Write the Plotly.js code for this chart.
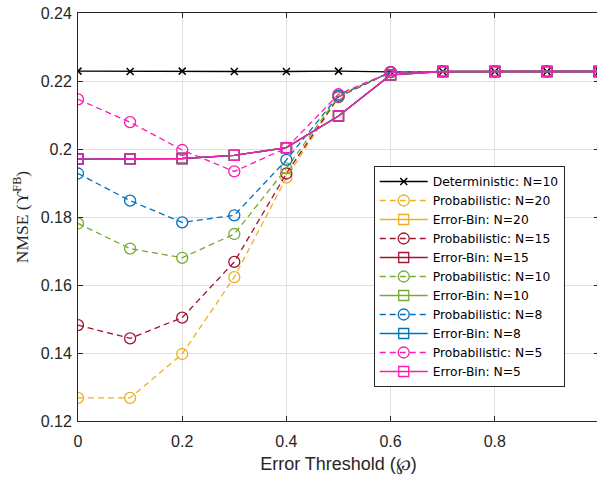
<!DOCTYPE html>
<html>
<head>
<meta charset="utf-8">
<script src="https://cdn.plot.ly/plotly-3.0.1.min.js"></script>
<style>
html, body { margin:0; padding:0; overflow:hidden; background:#fff; }
#chart { width:602px; height:478px; }
</style>
</head>
<body>
<div id="chart"></div>
<script>
// ---- data ----
const thresholds = [0, 0.1, 0.2, 0.3, 0.4, 0.5, 0.6, 0.7, 0.8, 0.9, 1.0];

const deterministicN10 = [0.2229, 0.2228, 0.2229, 0.2228, 0.2228, 0.2229, 0.2227, 0.2228, 0.2228, 0.2228, 0.2228];

const probN20 = [0.1268, 0.1268, 0.1397, 0.1623, 0.1916, 0.2153, 0.2226, 0.2228, 0.2228, 0.2228, 0.2228];
const probN15 = [0.1482, 0.1443, 0.1504, 0.1668, 0.1928, 0.2153, 0.2226, 0.2228, 0.2228, 0.2228, 0.2228];
const probN10 = [0.1781, 0.1707, 0.1680, 0.1750, 0.1943, 0.2155, 0.2226, 0.2228, 0.2228, 0.2228, 0.2228];
const probN8  = [0.1928, 0.1848, 0.1784, 0.1805, 0.1968, 0.2157, 0.2226, 0.2228, 0.2228, 0.2228, 0.2228];
const probN5  = [0.2146, 0.2079, 0.1997, 0.1934, 0.2003, 0.2161, 0.2226, 0.2228, 0.2228, 0.2228, 0.2228];

const binN20 = [0.1970, 0.1971, 0.1972, 0.1981, 0.2004, 0.2097, 0.2218, 0.2228, 0.2228, 0.2228, 0.2228];
const binN15 = [0.1970, 0.1971, 0.1972, 0.1981, 0.2004, 0.2097, 0.2218, 0.2228, 0.2228, 0.2228, 0.2228];
const binN10 = [0.1970, 0.1971, 0.1972, 0.1981, 0.2004, 0.2097, 0.2218, 0.2228, 0.2228, 0.2228, 0.2228];
const binN8  = [0.1970, 0.1971, 0.1972, 0.1981, 0.2004, 0.2097, 0.2218, 0.2228, 0.2228, 0.2228, 0.2228];
const binN5  = [0.1970, 0.1971, 0.1972, 0.1981, 0.2004, 0.2097, 0.2218, 0.2228, 0.2228, 0.2228, 0.2228];

const xTickVals = [0, 0.2, 0.4, 0.6, 0.8, 1];
const xTickText = ['0', '0.2', '0.4', '0.6', '0.8', '1'];
const yTickVals = [0.12, 0.14, 0.16, 0.18, 0.2, 0.22, 0.24];
const yTickText = ['0.12', '0.14', '0.16', '0.18', '0.2', '0.22', '0.24'];

// ---- styles ----
const colYellow = '#EDB120', colRed = '#A2142F', colGreen = '#77AC30', colBlue = '#0072BD', colPink = '#FF1AB0';
const DASH = '6px,4px';
const LW = 1.3;
const SANS = 'Liberation Sans, Arial, Helvetica, sans-serif';

function prob(name, y, c) {
  return { x: thresholds, y: y, name: name, type: 'scatter', mode: 'lines+markers',
    line: { color: c, width: LW, dash: DASH },
    marker: { symbol: 'circle-open', size: 11, color: c, line: { width: 1.3, color: c } } };
}
function bin(name, y, c) {
  return { x: thresholds, y: y, name: name, type: 'scatter', mode: 'lines+markers',
    line: { color: c, width: LW },
    marker: { symbol: 'square-open', size: 10, color: c, line: { width: 1.3, color: c } } };
}

const traces = [
  { x: thresholds, y: deterministicN10, name: 'Deterministic: N=10', type: 'scatter', mode: 'lines+markers',
    line: { color: '#000000', width: LW },
    marker: { symbol: 'x-thin-open', size: 7, color: '#000', line: { width: 1.5, color: '#000' } } },
  prob('Probabilistic: N=20', probN20, colYellow),
  bin('Error-Bin: N=20', binN20, colYellow),
  prob('Probabilistic: N=15', probN15, colRed),
  bin('Error-Bin: N=15', binN15, colRed),
  prob('Probabilistic: N=10', probN10, colGreen),
  bin('Error-Bin: N=10', binN10, colGreen),
  prob('Probabilistic: N=8', probN8, colBlue),
  bin('Error-Bin: N=8', binN8, colBlue),
  prob('Probabilistic: N=5', probN5, colPink),
  bin('Error-Bin: N=5', binN5, colPink)
];

const axisCommon = {
  showline: true, linecolor: '#262626', linewidth: 1,
  mirror: 'allticks', ticks: 'inside', ticklen: 5, tickcolor: '#262626', tickwidth: 1,
  showgrid: true, gridcolor: '#dfdfdf', gridwidth: 1, zeroline: false,
  tickfont: { family: SANS, size: 16, color: '#262626' },
  automargin: false, tickmode: 'array'
};

const layout = {
  width: 602, height: 478,
  margin: { l: 78, r: 2.5, t: 13, b: 57 },
  paper_bgcolor: '#ffffff', plot_bgcolor: '#ffffff',
  showlegend: true,
  legend: {
    x: 0.5676, y: 0.625, xanchor: 'left', yanchor: 'top',
    bgcolor: '#ffffff', bordercolor: '#262626', borderwidth: 1,
    font: { family: 'DejaVu Sans, sans-serif', size: 12.3, color: '#000' },
    itemwidth: 48,
    tracegroupgap: 0
  },
  xaxis: Object.assign({}, axisCommon, {
    range: [0, 1], tickvals: xTickVals, ticktext: xTickText, ticklabelstandoff: 6,
    title: { text: 'Error Threshold (℘)', font: { family: SANS, size: 18, color: '#262626' }, standoff: 8 }
  }),
  yaxis: Object.assign({}, axisCommon, {
    range: [0.12, 0.24], tickvals: yTickVals, ticktext: yTickText, ticklabelstandoff: 2,
    title: { text: 'NMSE (ϒ<sup>FB</sup>)', font: { family: 'Liberation Serif, Times New Roman, serif', size: 17.5, color: '#262626' }, standoff: 7 }
  })
};

Plotly.newPlot('chart', traces, layout, { displayModeBar: false, staticPlot: true });
</script>
</body>
</html>
